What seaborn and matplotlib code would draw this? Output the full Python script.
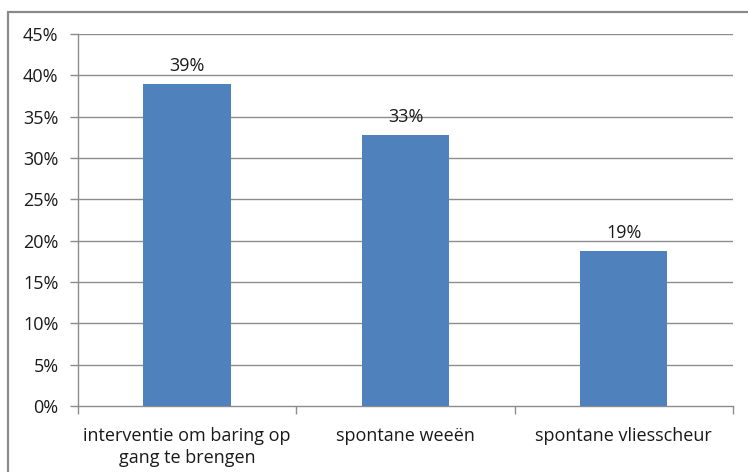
import matplotlib
matplotlib.use("Agg")
import matplotlib.pyplot as plt
import seaborn as sns
import pandas as pd
from matplotlib.patches import Rectangle
from matplotlib.ticker import FuncFormatter, FixedLocator

categories = ["interventie om baring op\ngang te brengen", "spontane weeën", "spontane vliesscheur"]
values = [0.389, 0.328, 0.188]
labels = ["39%", "33%", "19%"]
yticks = [0, 0.05, 0.10, 0.15, 0.20, 0.25, 0.30, 0.35, 0.40, 0.45]

sns.set_theme(style="white")
plt.rcParams['font.family'] = ['Open Sans', 'DejaVu Sans']

df = pd.DataFrame({"cat": categories, "val": values})

fig = plt.figure(figsize=(7.48, 4.72), dpi=100)
ax = fig.add_axes([78/748, 1-406/472, (733-78)/748, (406-34)/472])

sns.barplot(data=df, x="cat", y="val", color="#4F81BD", width=0.4, saturation=1,
            linewidth=0, ax=ax, zorder=3)

gray = "#8c8c8c"
ax.set_ylim(0, 0.45)
ax.set_xlim(-0.5, 2.5)
ax.set_yticks(yticks)
ax.yaxis.set_major_formatter(FuncFormatter(lambda v, p: f"{round(v*100)}%"))
for y in yticks[1:]:
    ax.axhline(y, color=gray, lw=1, zorder=1)

ax.set_xlabel("")
ax.set_ylabel("")
for s in ["top", "right"]:
    ax.spines[s].set_visible(False)
for s in ["left", "bottom"]:
    ax.spines[s].set_color(gray)
    ax.spines[s].set_linewidth(1)

ax.tick_params(axis="y", which="major", length=6, width=1, color=gray, direction="out", left=True,
               labelsize=13, pad=8, labelcolor="#1a1a1a")
ax.tick_params(axis="x", which="major", length=0, labelsize=13, pad=15, labelcolor="#1a1a1a")
for t in ax.get_xticklabels():
    t.set_linespacing(1.3)
ax.xaxis.set_minor_locator(FixedLocator([-0.5, 0.5, 1.5, 2.5]))
ax.tick_params(axis="x", which="minor", length=6, width=1, color=gray, direction="out", bottom=True)

for i, (v, lab) in enumerate(zip(values, labels)):
    ax.annotate(lab, (i, v), xytext=(0, 9), textcoords="offset pixels",
                ha="center", va="bottom", fontsize=13, color="#1a1a1a")

fig.patches.append(Rectangle((8/748, -0.1), 1.2, (472-12)/472 + 0.1, transform=fig.transFigure,
                             fill=False, edgecolor="#8a8a8a", lw=1.6, figure=fig))

fig.savefig("out.png", dpi=100)
